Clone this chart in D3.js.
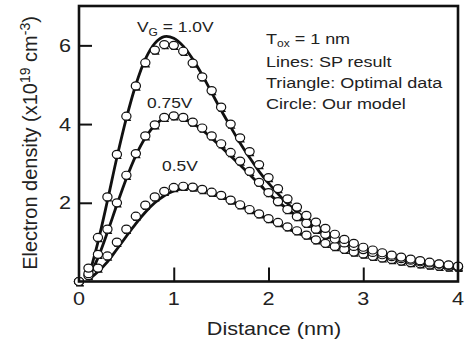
<!DOCTYPE html>
<html lang="en">
	<head>
		<meta charset="utf-8">
		<title>Electron density vs distance</title>
		<script src="https://d3js.org/d3.v7.min.js"></script>
		<style type="text/css">
			body { margin: 0; background: #fff; }
			text { font-family: "Liberation Sans", Arial, Helvetica, sans-serif; fill: #222; }
		</style>
	</head>
	<body>
		<script type="text/javascript">
		// model points (circles / triangles), x in nm
		var distance = [0.0,0.1,0.2,0.3,0.4,0.5,0.6,0.7,0.8,0.9,1.0,1.1,1.2,1.3,1.4,1.5,1.6,1.7,1.8,1.9,2.0,
						2.1,2.2,2.3,2.4,2.5,2.6,2.7,2.8,2.9,3.0,3.1,3.2,3.3,3.4,3.5,3.6,3.7,3.8,3.9,4.0];

		var model10 = [0,0.34,1.12,2.15,3.23,4.2,4.97,5.56,5.88,6.02,6.0,5.85,5.55,5.2,4.85,4.43,4.0,3.65,3.3,2.97,2.64,
					   2.36,2.1,1.89,1.68,1.51,1.35,1.2,1.07,0.97,0.87,0.8,0.73,0.67,0.62,0.57,0.53,0.49,0.45,0.42,0.39];
		var model075 = [0,0.2,0.69,1.33,2.0,2.7,3.25,3.7,3.98,4.17,4.21,4.17,4.05,3.9,3.7,3.5,3.28,3.06,2.8,2.52,2.26,
						2.03,1.83,1.65,1.48,1.33,1.2,1.08,0.98,0.89,0.81,0.74,0.68,0.63,0.58,0.54,0.5,0.47,0.44,0.41,0.38];
		var model05 = [0,0.15,0.34,0.65,1.0,1.33,1.66,1.94,2.15,2.29,2.39,2.42,2.4,2.34,2.27,2.19,2.07,1.95,1.83,1.72,1.6,
					   1.5,1.39,1.29,1.18,1.06,0.97,0.89,0.82,0.75,0.7,0.64,0.6,0.56,0.52,0.48,0.45,0.42,0.39,0.37,0.36];

		// SP result (lines)
		var lineX = [0.1,0.2,0.3,0.4,0.5,0.6,0.7,0.8,0.9,1.0,1.1,1.2,1.3,1.4,1.5,1.6,1.7,1.8,1.9,2.0,
					 2.2,2.4,2.6,2.8,3.0,3.2,3.4,3.6,3.8,4.0];
		var sp10 = [0.1,1.0,2.05,3.15,4.15,5.0,5.65,6.05,6.22,6.18,5.98,5.65,5.25,4.8,4.35,3.93,3.52,3.15,2.8,2.5,
					1.98,1.58,1.26,1.02,0.84,0.7,0.59,0.5,0.42,0.35];
		var sp075 = [0.08,0.6,1.25,1.95,2.62,3.2,3.65,3.97,4.15,4.2,4.15,4.02,3.85,3.64,3.42,3.19,2.96,2.72,2.48,2.24,
					 1.84,1.5,1.2,0.98,0.8,0.67,0.56,0.47,0.4,0.34];
		var sp05 = [0.05,0.25,0.5,0.82,1.15,1.47,1.76,2.0,2.18,2.3,2.36,2.37,2.33,2.26,2.17,2.06,1.94,1.82,1.7,1.58,
					1.35,1.15,0.97,0.82,0.7,0.59,0.5,0.43,0.37,0.33];

		var xTicks = [0,1,2,3,4];
		var yTicks = [2,4,6];

		var w = 465, h = 340;
		var frame = {left: 79, right: 458, top: 6, bottom: 281.5};
		var sx = 1.2;  // text in the picture is stretched sideways

		var svg = d3.select("body")
			.append("svg")
			.attr("width", w)
			.attr("height", h);

		var x = d3.scaleLinear().domain([0, 4]).range([frame.left, frame.right]);
		var y = d3.scaleLinear().domain([0, 7]).range([frame.bottom, frame.top]);

		function stretched(px, py, anchor, size) {
			return svg.append("g")
				.attr("transform", "translate(" + px + "," + py + ") scale(" + sx + ",1)")
				.append("text")
				.attr("text-anchor", anchor || "start")
				.style("font-size", size + "px");
		}

		// lines
		var line = d3.line()
			.x(function(d){ return x(d[0]); })
			.y(function(d){ return y(d[1]); })
			.curve(d3.curveCatmullRom);

		[sp10, sp075, sp05].forEach(function(s){
			svg.append("path")
				.datum(lineX.map(function(v, i){ return [v, s[i]]; }))
				.attr("d", line)
				.attr("fill", "none")
				.attr("stroke", "#111")
				.attr("stroke-width", 2.8);
		});

		// triangles then circles
		var tri = d3.symbol().type(d3.symbolTriangle).size(26);
		[model05, model075, model10].forEach(function(s){
			svg.append("g").selectAll("path")
				.data(distance.map(function(v, i){ return [v, s[i]]; }))
				.enter()
				.append("path")
				.attr("d", tri)
				.attr("transform", function(d){
					return "translate(" + (x(d[0]) + 1) + "," + (y(d[1]) + 2.5) + ")";
				})
				.attr("fill", "#111");
		});

		[model05, model075, model10].forEach(function(s){
			svg.append("g").selectAll("ellipse")
				.data(distance.map(function(v, i){ return [v, s[i]]; }))
				.enter()
				.append("ellipse")
				.attr("cx", function(d){ return x(d[0]); })
				.attr("cy", function(d){ return y(d[1]); })
				.attr("rx", 4.6)
				.attr("ry", 4.0)
				.attr("fill", "#fff")
				.attr("stroke", "#111")
				.attr("stroke-width", 1.2);
		});

		// frame
		svg.append("rect")
			.attr("x", frame.left)
			.attr("y", frame.top)
			.attr("width", frame.right - frame.left)
			.attr("height", frame.bottom - frame.top)
			.attr("fill", "none")
			.attr("stroke", "#111")
			.attr("stroke-width", 2.6);

		// inward ticks
		svg.append("g")
			.attr("transform", "translate(0," + frame.bottom + ")")
			.call(d3.axisTop(x).tickValues([1,2,3]).tickSize(14).tickFormat(""))
			.call(function(g){ g.select(".domain").remove(); })
			.selectAll("line").attr("stroke", "#111").attr("stroke-width", 2);

		svg.append("g")
			.attr("transform", "translate(" + frame.left + ",0)")
			.call(d3.axisRight(y).tickValues(yTicks).tickSize(13).tickFormat(""))
			.call(function(g){ g.select(".domain").remove(); })
			.selectAll("line").attr("stroke", "#111").attr("stroke-width", 2);

		// tick labels
		xTicks.forEach(function(t){
			stretched(x(t), 305, "middle", 18).text(t);
		});
		yTicks.forEach(function(t){
			stretched(71, y(t) + 6.5, "end", 18).text(t);
		});

		// axis titles
		stretched(274, 335, "middle", 18).text("Distance (nm)");

		var yl = svg.append("text")
			.attr("transform", "translate(37,143) rotate(-90)")
			.attr("text-anchor", "middle")
			.style("font-size", "20px");
		yl.append("tspan").text("Electron density (x10");
		yl.append("tspan").attr("dy", -7).style("font-size", "14px").text("19");
		yl.append("tspan").attr("dy", 7).text(" cm");
		yl.append("tspan").attr("dy", -7).style("font-size", "14px").text("-3");
		yl.append("tspan").attr("dy", 7).text(")");

		// curve labels
		var vg = stretched(137, 32, "start", 14.5);
		vg.append("tspan").text("V");
		vg.append("tspan").attr("dy", 4).style("font-size", "10px").text("G");
		vg.append("tspan").attr("dy", -4).text(" = 1.0V");
		stretched(147, 108, "start", 14.5).text("0.75V");
		stretched(162, 171, "start", 14.5).text("0.5V");

		// legend text
		var t1 = stretched(266, 44, "start", 15);
		t1.append("tspan").text("T");
		t1.append("tspan").attr("dy", 3).style("font-size", "10px").text("ox");
		t1.append("tspan").attr("dy", -3).text(" = 1 nm");
		stretched(266, 67, "start", 15).text("Lines: SP result");
		stretched(266, 88, "start", 15).text("Triangle: Optimal data");
		stretched(266, 109, "start", 15).text("Circle: Our model");
		</script>
	</body>
</html>
